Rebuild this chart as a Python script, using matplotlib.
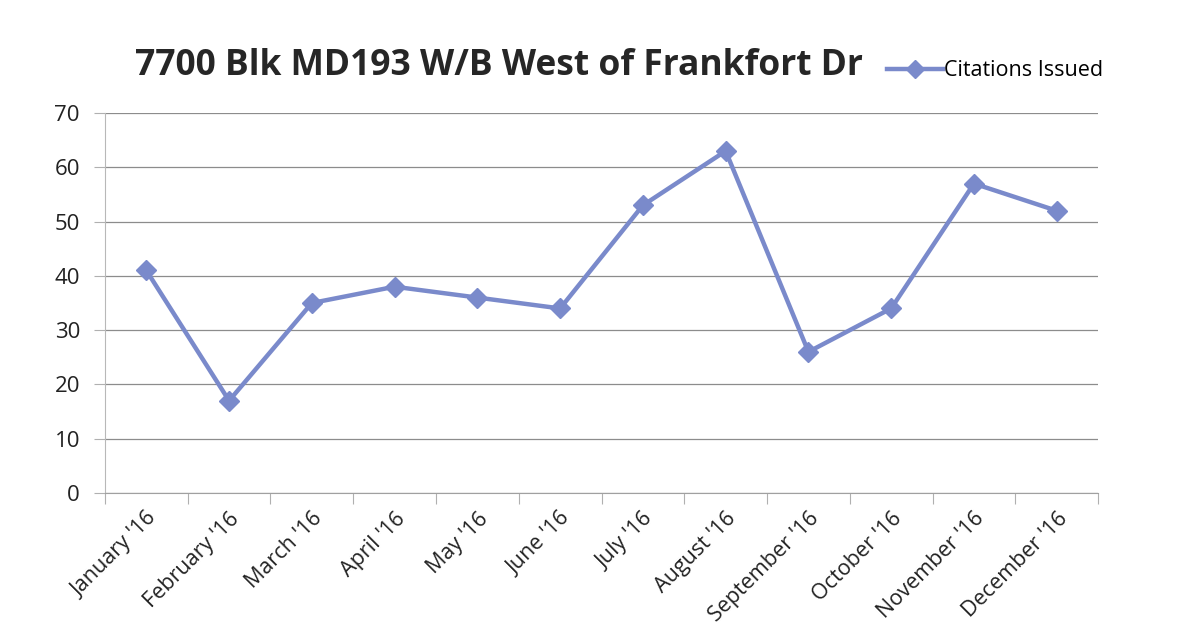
import matplotlib.pyplot as plt
from matplotlib.lines import Line2D

months = ["January '16", "February '16", "March '16", "April '16", "May '16",
          "June '16", "July '16", "August '16", "September '16", "October '16",
          "November '16", "December '16"]
citations = [41, 17, 35, 38, 36, 34, 53, 63, 26, 34, 57, 52]
y_ticks = [0, 10, 20, 30, 40, 50, 60, 70]

line_color = '#7A8ACB'
grid_color = '#8c8c8c'
plt.rcParams['font.family'] = ['Open Sans', 'DejaVu Sans']

fig = plt.figure(figsize=(11.98, 6.44), dpi=100)
ax = fig.add_axes([0.0876, 0.2345, 0.829, 0.59])

x = list(range(len(months)))
ax.plot(x, citations, color=line_color, linewidth=3.2, marker='D',
        markersize=10, markerfacecolor=line_color, markeredgecolor=line_color)

ax.set_xlim(-0.5, len(months) - 0.5)
ax.set_ylim(0, 70)
ax.set_yticks(y_ticks)
ax.yaxis.grid(True, color=grid_color, linewidth=0.9)
ax.set_axisbelow(True)

# category labels at centres, tick marks on the boundaries
ax.set_xticks(x)
ax.set_xticklabels(months, rotation=45, ha='right', rotation_mode='anchor',
                   fontsize=15.5, color='#222222')
ax.set_xticks([i - 0.5 for i in range(len(months) + 1)], minor=True)
ax.tick_params(axis='x', which='major', length=0, pad=11)
ax.tick_params(axis='x', which='minor', length=8, color='#b0b0b0', width=0.8)
ax.tick_params(axis='y', length=8, color='#b0b0b0', width=0.8, pad=10,
               labelsize=16, labelcolor='#222222')

for side in ('top', 'right'):
    ax.spines[side].set_visible(False)
ax.spines['left'].set_color('#b8b8b8')
ax.spines['bottom'].set_color('#a0a0a0')

fig.text(0.113, 0.898, '7700 Blk MD193 W/B West of Frankfort Dr', fontsize=25.5,
         fontweight='bold', color='#262626', ha='left', va='center')

handle = Line2D([], [], color=line_color, linewidth=3.2, marker='D',
                markersize=9, markerfacecolor=line_color)
fig.legend(handles=[handle], labels=['Citations Issued'], loc='center left',
           bbox_to_anchor=(0.724, 0.89), frameon=False, fontsize=15.5,
           handlelength=2.6, handletextpad=0.05)

fig.savefig('out.png', dpi=100)
